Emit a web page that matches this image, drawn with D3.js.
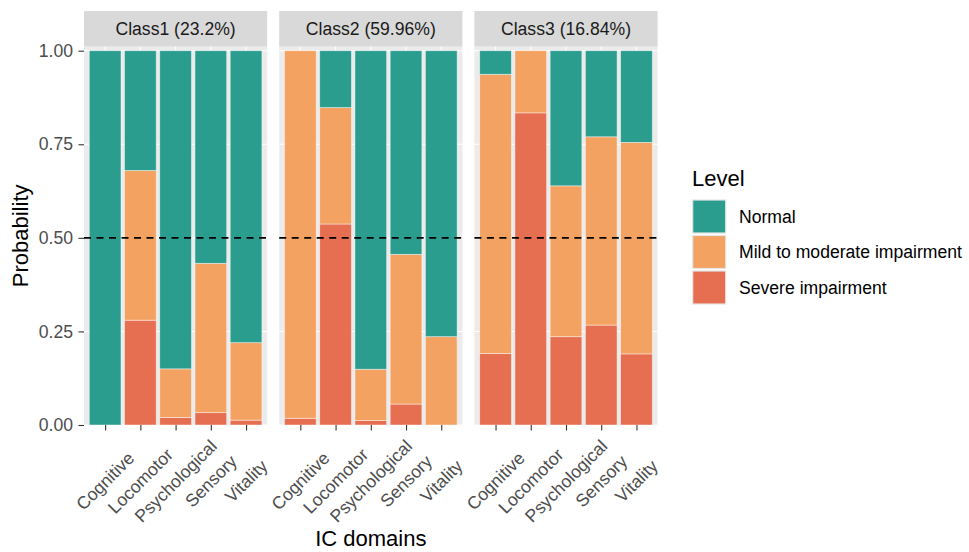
<!DOCTYPE html>
<html>
    <head>
        <meta charset="utf-8">
        <title>IC domains by class</title>
        <script type="text/javascript" src="https://cdn.jsdelivr.net/npm/d3@7/dist/d3.min.js"></script>
        <style>
            body { margin: 0; background: #fff; }
            svg text { font-family: "Liberation Sans", Arial, sans-serif; }
        </style>
    </head>

    <body>
        <svg></svg>
    </body>

    <script type="text/javascript">
        const WIDTH = 969;
        const HEIGHT = 552;

        // Data
        const domains = ["Cognitive", "Locomotor", "Psychological", "Sensory", "Vitality"];
        const classes = ["Class1 (23.2%)", "Class2 (59.96%)", "Class3 (16.84%)"];
        const levels = ["Normal", "Mild to moderate impairment", "Severe impairment"];
        const severe = [[0, 0.28, 0.02, 0.033, 0.013], [0.018, 0.537, 0.012, 0.056, 0], [0.191, 0.834, 0.236, 0.267, 0.19]];
        const mild = [[0, 0.40, 0.13, 0.399, 0.207], [0.982, 0.311, 0.137, 0.40, 0.236], [0.746, 0.166, 0.403, 0.503, 0.565]];
        const normal = [[1, 0.32, 0.85, 0.568, 0.78], [0, 0.152, 0.851, 0.544, 0.764], [0.063, 0, 0.361, 0.230, 0.245]];
        const yTicks = [0, 0.25, 0.5, 0.75, 1];

        const colors = {"Normal": "#2A9D8F", "Mild to moderate impairment": "#F4A261", "Severe impairment": "#E76F51"};

        // Layout
        var panelLeft = 84, panelGap = 12, panelW = 183.2;
        var stripTop = 11, panelTop = 46.7, panelBottom = 425;

        var svg = d3.select("svg")
            .attr("width", WIDTH)
            .attr("height", HEIGHT);

        var y = d3.scaleLinear()
            .domain([0, 1.0107])
            .range([panelBottom, panelTop]);

        var x = d3.scalePoint()
            .domain(domains)
            .range([0, panelW])
            .padding(0.6);
        var barW = x.step() * 0.9;

        var stack = d3.stack().keys(["Severe impairment", "Mild to moderate impairment", "Normal"]);

        classes.forEach(function(cls, ci) {
            var px = panelLeft + ci * (panelW + panelGap);
            var g = svg.append("g").attr("transform", "translate(" + px + ",0)");

            // strip
            g.append("rect")
                .attr("x", 0).attr("y", stripTop)
                .attr("width", panelW).attr("height", panelTop - stripTop)
                .attr("fill", "#D9D9D9");
            g.append("text")
                .attr("x", panelW / 2).attr("y", (stripTop + panelTop) / 2)
                .attr("dy", "0.35em")
                .attr("text-anchor", "middle")
                .attr("font-size", "17.6px")
                .attr("fill", "#1A1A1A")
                .text(cls);

            // panel background and grid
            g.append("rect")
                .attr("x", 0).attr("y", panelTop)
                .attr("width", panelW).attr("height", panelBottom - panelTop)
                .attr("fill", "#EBEBEB");
            g.selectAll(".grid")
                .data(yTicks)
                .enter()
                .append("line")
                .attr("x1", 0).attr("x2", panelW)
                .attr("y1", d => y(d)).attr("y2", d => y(d))
                .attr("stroke", "#fff").attr("stroke-width", 1.1);
            g.selectAll(".vgrid")
                .data(domains)
                .enter()
                .append("line")
                .attr("x1", d => x(d)).attr("x2", d => x(d))
                .attr("y1", panelTop).attr("y2", panelBottom)
                .attr("stroke", "#fff").attr("stroke-width", 1.1);

            // stacked bars
            var rows = domains.map(function(d, i) {
                return {
                    domain: d,
                    "Severe impairment": severe[ci][i],
                    "Mild to moderate impairment": mild[ci][i],
                    "Normal": normal[ci][i]
                };
            });
            var series = stack(rows);

            g.selectAll(".layer")
                .data(series)
                .enter()
                .append("g")
                .attr("fill", d => colors[d.key])
                .selectAll("rect")
                .data(d => d)
                .enter()
                .append("rect")
                .attr("x", d => x(d.data.domain) - barW / 2)
                .attr("width", barW)
                .attr("y", d => y(d[1]))
                .attr("height", d => Math.max(0, y(d[0]) - y(d[1])))
                .attr("stroke", "rgba(255,255,255,0.55)")
                .attr("stroke-width", 0.8);

            // reference line at 0.5
            g.append("line")
                .attr("x1", 0).attr("x2", panelW)
                .attr("y1", y(0.5)).attr("y2", y(0.5))
                .attr("stroke", "#000")
                .attr("stroke-width", 1.6)
                .attr("stroke-dasharray", "7,5.5");

            // x axis
            var xAxis = g.append("g")
                .attr("transform", "translate(0," + panelBottom + ")")
                .call(d3.axisBottom(x).tickSize(5.5).tickFormat(""));
            xAxis.select(".domain").remove();
            xAxis.selectAll("line").attr("stroke", "#333").attr("stroke-width", 1.1);

            g.selectAll(".xlab")
                .data(domains)
                .enter()
                .append("text")
                .attr("transform", d => "translate(" + x(d) + ",481) rotate(-45)")
                .attr("text-anchor", "middle")
                .attr("dy", "0.35em")
                .attr("font-size", "17.6px")
                .attr("fill", "#4D4D4D")
                .text(d => d);
        });

        // y axis
        var yAxis = svg.append("g")
            .attr("transform", "translate(" + panelLeft + ",0)")
            .call(d3.axisLeft(y).tickValues(yTicks).tickSize(5.5).tickPadding(5.5).tickFormat(d3.format(".2f")));
        yAxis.select(".domain").remove();
        yAxis.selectAll("line").attr("stroke", "#333").attr("stroke-width", 1.1);
        yAxis.selectAll("text")
            .attr("font-size", "17.6px")
            .attr("fill", "#4D4D4D")
            .style("font-family", "'Liberation Sans', Arial, sans-serif");

        // axis titles
        svg.append("text")
            .attr("transform", "translate(28," + ((panelTop + panelBottom) / 2) + ") rotate(-90)")
            .attr("text-anchor", "middle")
            .attr("font-size", "22px")
            .attr("fill", "#000")
            .text("Probability");

        var lastRight = panelLeft + 3 * panelW + 2 * panelGap;
        svg.append("text")
            .attr("x", (panelLeft + lastRight) / 2)
            .attr("y", 546)
            .attr("text-anchor", "middle")
            .attr("font-size", "22px")
            .attr("fill", "#000")
            .text("IC domains");

        // legend
        var legend = svg.append("g").attr("transform", "translate(692,0)");
        legend.append("text")
            .attr("x", 0).attr("y", 186)
            .attr("font-size", "22px")
            .attr("fill", "#000")
            .text("Level");

        var items = legend.selectAll(".item")
            .data(levels)
            .enter()
            .append("g")
            .attr("transform", (d, i) => "translate(0," + (200 + i * 35.5) + ")");
        items.append("rect")
            .attr("x", 0.7).attr("y", 0)
            .attr("width", 33).attr("height", 33)
            .attr("fill", d => colors[d])
            .attr("stroke", "#E5E5E5")
            .attr("stroke-width", 1.2);
        items.append("text")
            .attr("x", 47).attr("y", 16.5)
            .attr("dy", "0.35em")
            .attr("font-size", "17.6px")
            .attr("fill", "#000")
            .text(d => d);
    </script>
</html>
